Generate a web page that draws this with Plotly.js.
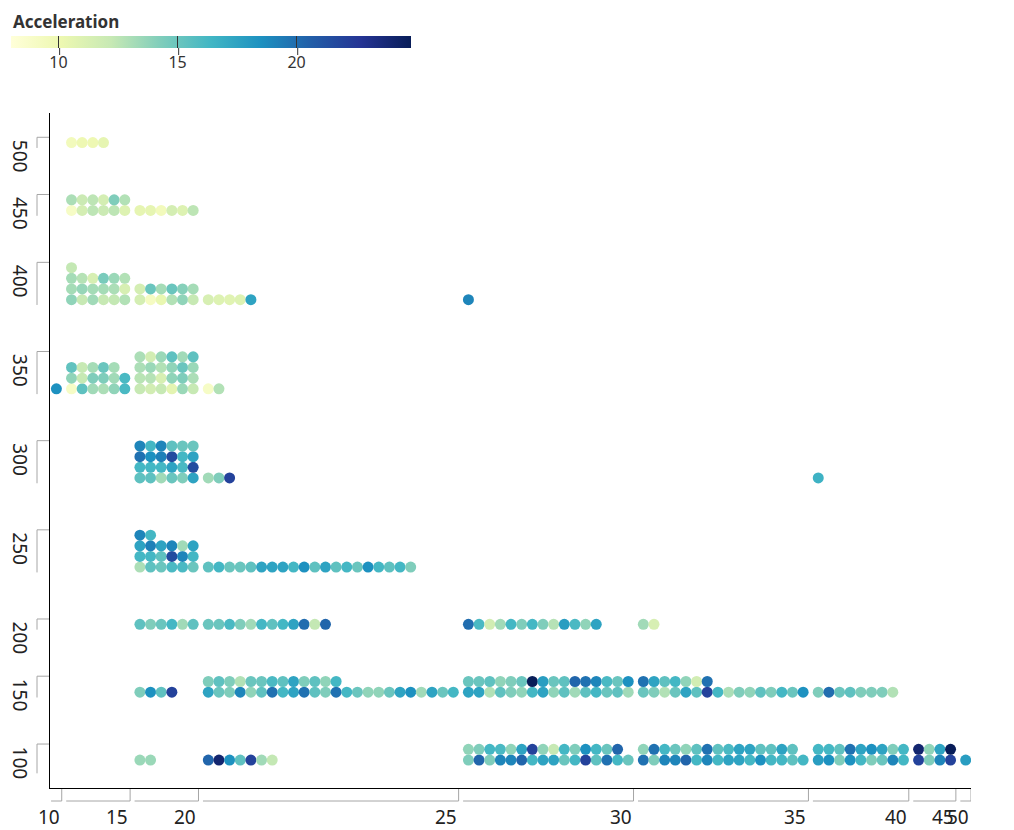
<!DOCTYPE html>
<html>
<head>
<meta charset="utf-8">
<script src="https://cdn.plot.ly/plotly-3.0.1.min.js"></script>
<style>html,body{margin:0;padding:0;background:#fff}#chart{width:1014px;height:830px}</style>
</head>
<body>
<div id="chart"></div>
<script>
// ---------------- DATA ----------------
// MPG bins (label = upper end of each bin) and displacement bins (label = upper end)
const mpgBinEnds = [10, 15, 20, 25, 30, 35, 40, 45, 50];
const dispBinEnds = [500, 450, 400, 350, 300, 250, 200, 150, 100];

// Acceleration of every car, per displacement bin, split by MPG bin (9 cells each)
const accel500 = [[], [9.5, 10, 10, 10.5], [], [], [], [], [], [], []];
const accel450 = [[], [9, 11.5, 12.5, 12, 12.5, 11, 13, 12, 12.5, 11.5, 14.3, 12.8],
  [10.5, 10.5, 9.5, 11.5, 11, 12.5], [], [], [], [], [], []];
const accel400 = [[],
  [13.8, 12.2, 13.3, 12.2, 12.3, 12.8, 13.2, 13.6, 13.2, 13.2, 13, 11.3, 13.2, 12.7, 11.3, 14.5, 13.5, 12.8, 12.3],
  [11.5, 9.2, 10.3, 12.8, 13.8, 12.2, 11.5, 15, 13.2, 15, 14.1, 13.2],
  [11.3, 11, 10.8, 11, 17.5], [19], [], [], [], []];
const accel350 = [[18.5],
  [9, 15.4, 13.3, 13, 13.8, 16.1, 13.8, 12.2, 14.3, 14.3, 13.3, 16.1, 15.3, 12.2, 13.2, 15, 13.2],
  [12.2, 11.6, 12.2, 10.6, 13.5, 12.2, 12.6, 12.7, 11.3, 13.8, 14.3, 13, 13, 13.5, 12.8, 13.8, 15, 13.5, 13, 11.6, 13.5, 15.4, 13.3, 15.4],
  [9, 12.8], [], [], [], [], []];
const accel300 = [[], [],
  [15.4, 15.4, 13.3, 15, 14.3, 17.5, 16.3, 16.3, 16.3, 17.5, 16.1, 21.5, 19.8, 18.5, 19.2, 21.5, 16.3, 17.5, 19, 16.3, 19, 15.4, 15, 15],
  [13.3, 14.3, 22], [], [], [16.6], [], []];
const accel250 = [[], [],
  [13, 15.4, 15, 16.1, 16.1, 15, 16.3, 16.3, 15.4, 21.5, 19, 16.3, 17.5, 19.2, 17.5, 19, 13.3, 17.5, 19, 16.3],
  [15.4, 16.3, 15, 15, 15.4, 17.5, 17.5, 17.5, 16.3, 18.5, 15.4, 17.5, 15.4, 16.3, 15, 18.5, 16.3, 15.4, 16.3, 14.3],
  [], [], [], [], []];
const accel200 = [[], [],
  [15.4, 14.3, 15, 16.3, 13.3, 15.4],
  [15, 15, 16.1, 14.3, 13.3, 16.3, 15.4, 16.3, 17.5, 20, 12.3, 20.3],
  [20, 16.1, 11.6, 13.3, 16.3, 14.3, 16.3, 14.3, 12.7, 17.8, 16.1, 13.8, 17.5],
  [13.3, 11.3], [], [], []];
const accel150 = [[], [],
  [14.3, 18.5, 15.4, 22],
  [17.5, 15, 14.3, 19, 13.8, 15.4, 19.8, 16.3, 17.5, 19.8, 15.4, 14.3, 19.8, 16.3, 15, 13.8, 13.8, 15, 17.5, 18.5, 13.3, 17.5, 15, 16.3,
   14.3, 15.4, 14.3, 12.8, 15, 15, 16.1, 15.4, 17.5, 14.3, 15.4, 13.8, 16.3],
  [17.5, 17.5, 12.8, 15.4, 14.3, 13.8, 16.3, 17.5, 13.8, 15.4, 13.3, 15.4, 16.3, 15, 15.4, 13.3,
   15, 15, 15.4, 13.8, 14.3, 15, 24.8, 17.8, 15, 15.4, 20.3, 19.8, 19, 16.1, 15, 18.5],
  [15, 14.3, 12.8, 15, 17.5, 15.4, 22, 16.3, 13, 14.3, 13.8, 15.4, 14.3, 16.3, 15, 18.5,
   19.8, 17.5, 15.4, 16.3, 13.8, 11.6, 19.8],
  [14.3, 20, 15, 15.4, 14.3, 14.3, 14.3, 12.8], [], []];
const accel100 = [[], [],
  [13.5, 13.5],
  [20.3, 24, 18.5, 15.4, 22, 13.3, 12.3],
  [14.3, 20.3, 14.3, 19, 19, 20.3, 16.3, 17.5, 17.5, 15, 16.3, 22, 15.4, 19.8, 16.3, 15,
   13.8, 14.3, 16.3, 16.1, 13.8, 17.5, 22, 13.8, 12.2, 16.3, 14.3, 18.5, 16.3, 15, 20.3],
  [19.8, 14.3, 19, 19, 20.3, 16.3, 19, 16.3, 17.5, 17.5, 16.3, 18.5, 16.3, 16.3, 15.4, 16.3,
   13.8, 19.8, 16.3, 15, 13.8, 15.4, 19.8, 15.4, 16.1, 17.5, 17.5, 15.4, 15.4, 17.5, 15.4],
  [17.8, 18.5, 14.3, 18.5, 16.3, 14.3, 15, 19, 16.3, 16.3, 16.3, 15.4, 19.8, 17.5, 18.5, 17.5, 14.3, 16.3],
  [22, 14.3, 19, 22, 24, 13.8, 17.5, 24.8],
  [17.8]];
const accelByDisp = [accel500, accel450, accel400, accel350, accel300, accel250, accel200, accel150, accel100];
const colorTicks = [10, 15, 20];
const colorTitle = 'Acceleration';

// ---------------- LAYOUT CONFIG ----------------
const W = 1014, H = 830;
const M = {l: 50, r: 43, t: 113, b: 42};
const colsPerMpgBin = [1, 6, 6, 24, 16, 16, 9, 4, 1];
const padL = 0.1, gapX = 0.42, padR = 0;
const padTop = 2.28, gapY = 4.37;
const cMin = 8, cMax = 24.8;
const CB = {left: 12, top: 36, len: 400, thick: 12};
const FONT = 'Noto Sans, Open Sans, sans-serif';
const BRACKET = '#a6a6a6';
const scale = [[0,'#ffffd9'],[0.125,'#edf8b1'],[0.25,'#c7e9b4'],[0.375,'#7fcdbb'],[0.5,'#41b6c4'],
               [0.625,'#1d91c0'],[0.75,'#225ea8'],[0.875,'#253494'],[1,'#081d58']];

// segment extents on x (in dot units)
const segStart = [], segEnd = [];
let cur = padL;
colsPerMpgBin.forEach((c, i) => { if (i > 0) cur += gapX; segStart.push(cur); cur += c; segEnd.push(cur); });
const totalX = cur + padR;
const plotW = W - M.l - M.r, plotH = H - M.t - M.b;
const pitch = plotW / totalX;
const totalY = plotH / pitch;

// rows needed per displacement bin
const rowsPerDisp = accelByDisp.map(cells =>
  Math.max(1, ...cells.map((v, s) => Math.ceil(v.length / colsPerMpgBin[s]))));
const binTop = [];
cur = padTop;
rowsPerDisp.forEach((r, i) => { if (i > 0) cur += gapY; binTop.push(cur); cur += r; });

const xs = [], ys = [], cs = [];
accelByDisp.forEach((cells, b) => {
  cells.forEach((vals, s) => {
    const nc = colsPerMpgBin[s];
    vals.forEach((a, k) => {
      const col = k % nc, row = Math.floor(k / nc);
      xs.push(segStart[s] + col + 0.5);
      ys.push(binTop[b] + rowsPerDisp[b] - 1 - row + 0.5);
      cs.push(a);
    });
  });
});

const trace = {
  type: 'scatter', mode: 'markers', x: xs, y: ys, hoverinfo: 'skip',
  marker: {
    size: 11, color: cs, colorscale: scale, cmin: cMin, cmax: cMax,
    line: {width: 0}, opacity: 1, showscale: true,
    colorbar: {
      orientation: 'h', xref: 'container', yref: 'container',
      x: CB.left / W, xanchor: 'left', y: 1 - CB.top / H, yanchor: 'top',
      len: CB.len, lenmode: 'pixels', thickness: CB.thick, thicknessmode: 'pixels',
      xpad: 0, ypad: 0, outlinewidth: 0,
      tickvals: colorTicks, ticks: 'inside', ticklen: CB.thick, tickcolor: '#333', tickwidth: 1,
      tickfont: {family: FONT, size: 16, color: '#333'}
    }
  }
};

const shapes = [];
const annotations = [];
// x brackets and labels
mpgBinEnds.forEach((lab, s) => {
  shapes.push({type: 'line', xref: 'x', yref: 'paper', ysizemode: 'pixel', yanchor: 0,
    x0: segStart[s], x1: segEnd[s], y0: -13, y1: -13, line: {color: BRACKET, width: 1}});
  shapes.push({type: 'line', xref: 'x', yref: 'paper', ysizemode: 'pixel', yanchor: 0,
    x0: segEnd[s], x1: segEnd[s], y0: -1, y1: -13, line: {color: BRACKET, width: 1}});
  annotations.push({xref: 'x', yref: 'paper', x: segEnd[s], y: 0, xanchor: 'right', yanchor: 'top',
    yshift: -14, text: String(lab), showarrow: false, font: {family: FONT, size: 19, color: '#222'}});
});
// y brackets and labels
dispBinEnds.forEach((lab, b) => {
  const last = b === dispBinEnds.length - 1;
  shapes.push({type: 'line', xref: 'paper', yref: 'y', xsizemode: 'pixel', xanchor: 0,
    x0: -13, x1: -1, y0: binTop[b], y1: binTop[b], line: {color: BRACKET, width: 1}});
  shapes.push({type: 'line', xref: 'paper', yref: 'y', xsizemode: 'pixel', xanchor: 0,
    x0: -13, x1: -13, y0: binTop[b], y1: binTop[b] + rowsPerDisp[b] + (last ? 0.75 : 0),
    line: {color: BRACKET, width: 1}});
  annotations.push({xref: 'paper', yref: 'y', x: 0, y: binTop[b], xanchor: 'center', yanchor: 'top',
    xshift: -30, textangle: 90, text: String(lab), showarrow: false,
    font: {family: FONT, size: 19, color: '#222'}});
});
// outer part of colorbar ticks (below the bar)
colorTicks.forEach(v => {
  const px = CB.left + (v - cMin) / (cMax - cMin) * CB.len;
  shapes.push({type: 'line', xref: 'paper', yref: 'paper', ysizemode: 'pixel', yanchor: 1,
    x0: (px - M.l) / plotW, x1: (px - M.l) / plotW, y0: M.t - CB.top - CB.thick, y1: M.t - CB.top - CB.thick - 7,
    line: {color: '#333', width: 1}});
});
// colorbar title
annotations.push({xref: 'paper', yref: 'paper', x: 0, y: 1, xanchor: 'left', yanchor: 'middle',
  xshift: CB.left - M.l - 1, yshift: M.t - 21, text: '<b>' + colorTitle + '</b>', showarrow: false,
  font: {family: FONT, size: 17, color: '#333'}});

const layout = {
  width: W, height: H, margin: M, paper_bgcolor: '#fff', plot_bgcolor: '#fff',
  showlegend: false, font: {family: FONT, color: '#222'},
  xaxis: {range: [0, totalX], showgrid: false, zeroline: false, showticklabels: false, ticks: '',
    showline: true, linecolor: '#000', linewidth: 1, fixedrange: true},
  yaxis: {range: [totalY, 0], showgrid: false, zeroline: false, showticklabels: false, ticks: '',
    showline: true, linecolor: '#000', linewidth: 1, fixedrange: true},
  shapes: shapes, annotations: annotations
};

Plotly.newPlot('chart', [trace], layout, {displayModeBar: false, staticPlot: true});
</script>
</body>
</html>
